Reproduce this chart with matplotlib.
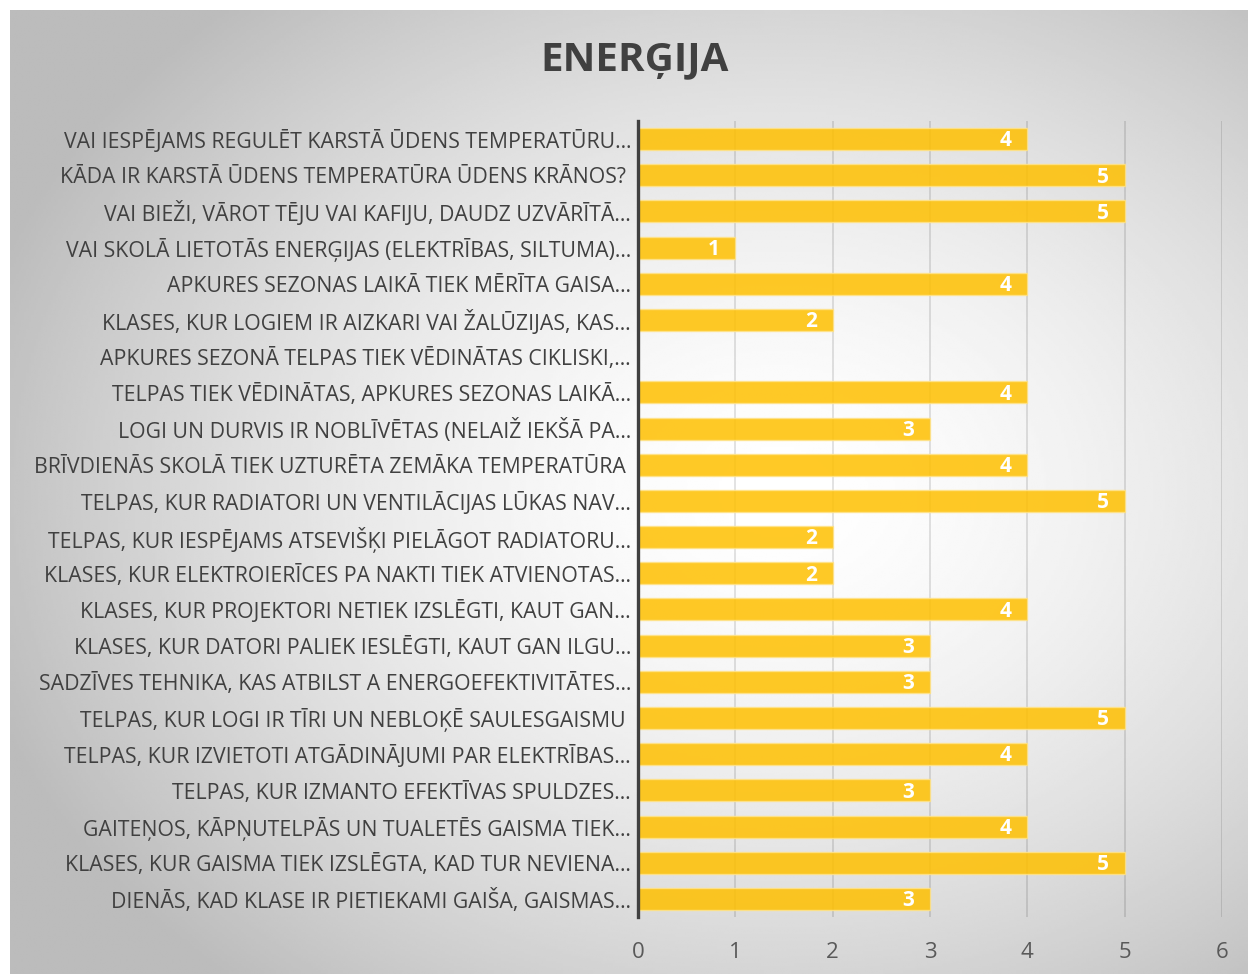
import matplotlib.pyplot as plt
import numpy as np

plt.rcParams['font.family'] = ['Open Sans', 'DejaVu Sans']

# Dati (no augšas uz leju)
jautajumi = [
    "VAI IESPĒJAMS REGULĒT KARSTĀ ŪDENS TEMPERATŪRU…",
    "KĀDA IR KARSTĀ ŪDENS TEMPERATŪRA ŪDENS KRĀNOS? ",
    "VAI BIEŽI, VĀROT TĒJU VAI KAFIJU, DAUDZ UZVĀRĪTĀ…",
    "VAI SKOLĀ LIETOTĀS ENERĢIJAS (ELEKTRĪBAS, SILTUMA)…",
    "APKURES SEZONAS LAIKĀ TIEK MĒRĪTA GAISA…",
    "KLASES, KUR LOGIEM IR AIZKARI VAI ŽALŪZIJAS, KAS…",
    "APKURES SEZONĀ TELPAS TIEK VĒDINĀTAS CIKLISKI,…",
    "TELPAS TIEK VĒDINĀTAS, APKURES SEZONAS LAIKĀ…",
    "LOGI UN DURVIS IR NOBLĪVĒTAS (NELAIŽ IEKŠĀ PA…",
    "BRĪVDIENĀS SKOLĀ TIEK UZTURĒTA ZEMĀKA TEMPERATŪRA ",
    "TELPAS, KUR RADIATORI UN VENTILĀCIJAS LŪKAS NAV…",
    "TELPAS, KUR IESPĒJAMS ATSEVIŠĶI PIELĀGOT RADIATORU…",
    "KLASES, KUR ELEKTROIERĪCES PA NAKTI TIEK ATVIENOTAS…",
    "KLASES, KUR PROJEKTORI NETIEK IZSLĒGTI, KAUT GAN…",
    "KLASES, KUR DATORI PALIEK IESLĒGTI, KAUT GAN ILGU…",
    "SADZĪVES TEHNIKA, KAS ATBILST A ENERGOEFEKTIVITĀTES…",
    "TELPAS, KUR LOGI IR TĪRI UN NEBLOĶĒ SAULESGAISMU ",
    "TELPAS, KUR IZVIETOTI ATGĀDINĀJUMI PAR ELEKTRĪBAS…",
    "TELPAS, KUR IZMANTO EFEKTĪVAS SPULDZES…",
    "GAITEŅOS, KĀPŅUTELPĀS UN TUALETĒS GAISMA TIEK…",
    "KLASES, KUR GAISMA TIEK IZSLĒGTA, KAD TUR NEVIENA…",
    "DIENĀS, KAD KLASE IR PIETIEKAMI GAIŠA, GAISMAS…",
]
vertibas = [4, 5, 5, 1, 4, 2, None, 4, 3, 4, 5, 2, 2, 4, 3, 3, 5, 4, 3, 4, 5, 3]
x_ticks = [0, 1, 2, 3, 4, 5, 6]

W, H = 1248, 974
fig = plt.figure(figsize=(W / 100, H / 100), dpi=100, facecolor='white')

# radiāls gradienta fons
bg = fig.add_axes([10 / W, 0, 1 - 10 / W, (H - 10) / H], zorder=-1)
yy, xx = np.mgrid[0:1:400j, 0:1:500j]
r = np.sqrt(((xx - 0.62) / 0.75) ** 2 + ((yy - 0.5) / 0.75) ** 2)
g = np.clip(255 - 80 * r ** 1.6, 188, 255) / 255
bg.imshow(g, cmap='gray', vmin=0, vmax=1, aspect='auto', interpolation='bilinear')
bg.axis('off')

ax = fig.add_axes([638 / W, 57 / H, (1222 - 638) / W, (917 - 121) / H])
ax.set_facecolor('none')

y = np.arange(len(jautajumi))
vals = [v if v is not None else 0 for v in vertibas]
ax.barh(y, vals, height=0.61, color='#FFC000', alpha=0.85,
        edgecolor='#FFE38A', linewidth=1, zorder=2)

for yi, v in zip(y, vertibas):
    if v:
        ax.text(v - 0.16, yi + 0.05, str(v), ha='right', va='center', color='white',
                fontsize=15, fontweight='bold', zorder=3)

ax.set_xlim(0, 6)
ax.set_ylim(len(jautajumi) - 0.5, -0.5)
ax.set_xticks(x_ticks)
ax.set_yticks(y)
ax.set_yticklabels(jautajumi)
ax.tick_params(axis='y', length=0, pad=5, labelsize=15.3, labelcolor='#404040')
ax.tick_params(axis='x', length=0, pad=18, labelsize=16, labelcolor='#595959')

ax.grid(axis='x', color='black', alpha=0.13, linewidth=1.2, zorder=1)
ax.set_axisbelow(True)
for s in ['top', 'right', 'bottom']:
    ax.spines[s].set_visible(False)
ax.spines['left'].set_color('#404040')
ax.spines['left'].set_linewidth(2.4)
ax.spines['left'].set_zorder(4)

fig.text(635 / W, 1 - 60 / H, 'ENERĢIJA', ha='center', va='center',
         fontsize=29, fontweight='bold', color='#404040')

fig.savefig('out.png', dpi=100)
